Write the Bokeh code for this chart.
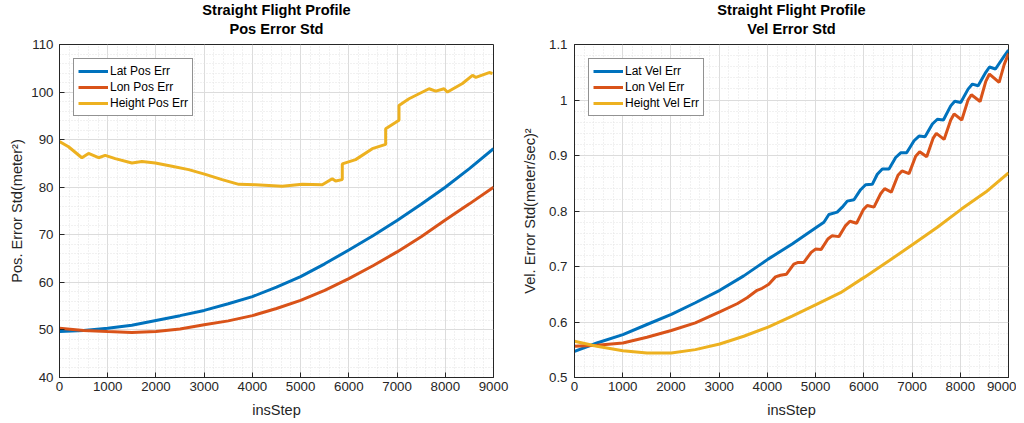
from bokeh.plotting import figure
from bokeh.models import LinearAxis, SingleIntervalTicker, Range1d, Title, Legend, LegendItem
from bokeh.layouts import row
from bokeh.embed import file_html
from bokeh.resources import INLINE

# ---------------- data: position errors ----------------
pos_lat_x = [0, 500, 1000, 1500, 2000, 2500, 3000, 3500, 4000, 4500, 5000, 5500, 6000, 6500, 7000, 7500, 8000, 8500, 9000]
pos_lat_y = [49.65, 49.9, 50.35, 51.0, 52.0, 53.0, 54.1, 55.5, 57.0, 59.0, 61.2, 63.9, 66.8, 69.8, 73.0, 76.4, 80.0, 83.9, 88.1]

pos_lon_x = [0, 500, 1000, 1500, 2000, 2500, 3000, 3500, 4000, 4500, 5000, 5500, 6000, 6500, 7000, 7500, 8000, 8500, 9000]
pos_lon_y = [50.35, 49.9, 49.65, 49.45, 49.65, 50.2, 51.1, 51.9, 53.0, 54.5, 56.2, 58.3, 60.8, 63.5, 66.4, 69.6, 73.1, 76.5, 80.0]

pos_hgt_x = [0, 187, 464, 602, 810, 948, 1156, 1502, 1710, 1987, 2333, 2679, 3025, 3372, 3718, 4064,
             4618, 5033, 5449, 5656, 5726, 5864, 5864, 6141, 6487, 6764, 6764, 7040, 7040, 7248,
             7664, 7802, 7975, 8045, 8356, 8564, 8633, 8910, 8979]
pos_hgt_y = [89.6, 88.5, 86.2, 87.1, 86.2, 86.7, 86.0, 85.1, 85.4, 85.1, 84.4, 83.7, 82.7, 81.6, 80.6, 80.5,
             80.2, 80.6, 80.5, 81.8, 81.3, 81.6, 84.9, 85.8, 88.1, 89.0, 92.3, 94.1, 97.2, 98.6,
             100.7, 100.2, 100.7, 100.0, 101.8, 103.5, 103.1, 104.1, 103.9]

# ---------------- data: velocity errors ----------------
vel_lat_x = [0, 464, 1004, 1502, 2008, 2506, 3012, 3510, 4015, 4514, 5019, 5172, 5275, 5448, 5552, 5656,
             5795, 5933, 6037, 6175, 6279, 6383, 6522, 6660, 6764, 6888, 7041, 7145, 7269, 7421, 7525,
             7650, 7802, 7885, 8010, 8162, 8252, 8370, 8529, 8605, 8730, 8910, 9000]
vel_lat_y = [0.547, 0.5622, 0.5773, 0.5955, 0.6136, 0.6347, 0.6571, 0.6831, 0.7133, 0.7405, 0.7707, 0.7798,
             0.7937, 0.7979, 0.8069, 0.8178, 0.8202, 0.8384, 0.8474, 0.8480, 0.8662, 0.8758, 0.8758, 0.8964,
             0.9048, 0.9048, 0.9266, 0.9350, 0.9338, 0.9568, 0.9653, 0.9640, 0.9894, 0.9979, 0.9955, 1.0196,
             1.0287, 1.0257, 1.0498, 1.0595, 1.0559, 1.0789, 1.0897]

vel_lon_x = [0, 464, 1004, 1502, 2008, 2506, 3012, 3372, 3579, 3787, 3891, 4029, 4168, 4271, 4396, 4548,
             4638, 4756, 4908, 4998, 5116, 5254, 5344, 5483, 5622, 5711, 5850, 5988, 6071, 6210, 6348,
             6431, 6570, 6708, 6791, 6937, 7075, 7158, 7304, 7435, 7504, 7664, 7802, 7872, 8031, 8162,
             8231, 8411, 8529, 8605, 8806, 8910, 9000]
vel_lon_y = [0.5562, 0.5580, 0.5622, 0.5725, 0.5846, 0.5985, 0.6184, 0.6329, 0.6438, 0.6571, 0.6607, 0.6680,
             0.6813, 0.6843, 0.6861, 0.7042, 0.7073, 0.7073, 0.7254, 0.7314, 0.7308, 0.7495, 0.7556, 0.7538,
             0.7737, 0.7816, 0.7779, 0.8021, 0.8100, 0.8069, 0.8311, 0.8402, 0.8341, 0.8644, 0.8722, 0.8674,
             0.8988, 0.9067, 0.8976, 0.9308, 0.9399, 0.9290, 0.9640, 0.9749, 0.9640, 1.0003, 1.0094, 0.9973,
             1.0335, 1.0468, 1.0317, 1.0637, 1.0837]

vel_hgt_x = [0, 464, 1004, 1502, 2008, 2506, 3012, 3510, 4015, 4514, 5019, 5517, 6023, 6522, 7028, 7525, 8031, 8529, 9000]
vel_hgt_y = [0.5653, 0.5562, 0.5483, 0.5441, 0.5441, 0.5502, 0.5604, 0.5743, 0.5907, 0.6106, 0.6317, 0.6529,
             0.6813, 0.7103, 0.7405, 0.7707, 0.8039, 0.8341, 0.8686]

titles_top = ["Straight Flight Profile", "Straight Flight Profile"]
titles_sub = ["Pos Error Std", "Vel Error Std"]
y_labels = ["Pos. Error Std(meter\u00b2)", "Vel. Error Std(meter/sec)\u00b2"]
x_label = "insStep"
pos_names = ["Lat Pos Err", "Lon Pos Err", "Height Pos Err"]
vel_names = ["Lat Vel Err", "Lon Vel Err", "Height Vel Err"]

COLORS = ["#0072BD", "#D95319", "#EDB120"]
FONT = "Liberation Sans"
DARK = "#262626"
FW, FH = 434, 333


def make_title(text, standoff, fallback):
    kw = dict(text=text, align="center", text_font=FONT, text_font_size="14.6px",
              text_font_style="bold", text_color="black")
    try:
        return Title(standoff=standoff, **kw)
    except Exception:
        return Title(standoff=fallback, **kw)


def make_fig(left, right, xr, yr, yint, title1, title2, ylabel, series, names, tick_sd, lab_sd):
    p = figure(frame_width=FW, frame_height=FH, output_backend="svg", toolbar_location=None,
               x_range=Range1d(*xr), y_range=Range1d(*yr),
               min_border_left=left, min_border_right=right, min_border_top=44, min_border_bottom=38,
               x_axis_location=None, y_axis_location=None)
    p.outline_line_color = DARK
    p.outline_line_width = 1
    p.background_fill_color = "white"
    p.border_fill_color = "white"

    xt = SingleIntervalTicker(interval=1000, num_minor_ticks=5)
    yt = SingleIntervalTicker(interval=yint, num_minor_ticks=5)

    def axis(ticker, label):
        a = LinearAxis(ticker=ticker)
        a.axis_line_color = DARK
        a.major_tick_line_color = DARK
        a.major_tick_in = 5
        a.major_tick_out = 0
        a.minor_tick_in = 0
        a.minor_tick_out = 0
        a.major_label_text_font = FONT
        a.major_label_text_color = DARK
        a.major_label_text_font_size = "13.3px"
        a.axis_label = label
        a.axis_label_text_font = FONT
        a.axis_label_text_font_style = "normal"
        a.axis_label_text_font_size = "14.6px"
        a.axis_label_text_color = DARK
        return a

    bx = axis(xt, x_label)
    bx.major_label_standoff = 4
    bx.axis_label_standoff = 8
    ly = axis(yt, ylabel)
    ly.major_label_standoff = tick_sd
    ly.axis_label_standoff = lab_sd
    p.add_layout(bx, "below")
    p.add_layout(ly, "left")

    p.xgrid.ticker = xt
    p.ygrid.ticker = yt
    for g in (p.xgrid, p.ygrid):
        g.grid_line_color = "#dcdcdc"
        g.grid_line_width = 1
        g.minor_grid_line_color = "#e3e3e3"
        g.minor_grid_line_dash = "1 2"
        g.minor_grid_line_width = 1

    p.add_layout(make_title(title2, 16, 2), "above")
    p.add_layout(make_title(title1, -15, 0), "above")

    items = []
    for (xs, ys), c, n in zip(series, COLORS, names):
        r = p.line(xs, ys, line_color=c, line_width=3)
        items.append(LegendItem(label=n, renderers=[r]))
    leg = Legend(items=items, location="top_left", margin=14, padding=4, spacing=0,
                 label_text_font=FONT, label_text_font_size="12px", label_text_color="black",
                 label_height=16, glyph_height=16, glyph_width=30, label_standoff=2,
                 border_line_color=DARK, border_line_width=1, background_fill_alpha=1)
    p.add_layout(leg, "center")
    return p


p1 = make_fig(59, 19, (0, 9000), (40, 110), 10, titles_top[0], titles_sub[0], y_labels[0],
              [(pos_lat_x, pos_lat_y), (pos_lon_x, pos_lon_y), (pos_hgt_x, pos_hgt_y)], pos_names, 6, 3)
p2 = make_fig(62, 8, (0, 9000), (0.5, 1.1), 0.1, titles_top[1], titles_sub[1], y_labels[1],
              [(vel_lat_x, vel_lat_y), (vel_lon_x, vel_lon_y), (vel_hgt_x, vel_hgt_y)], vel_names, 7, 8)

layout = row(p1, p2)
open("out.html", "w").write(file_html(layout, INLINE))
